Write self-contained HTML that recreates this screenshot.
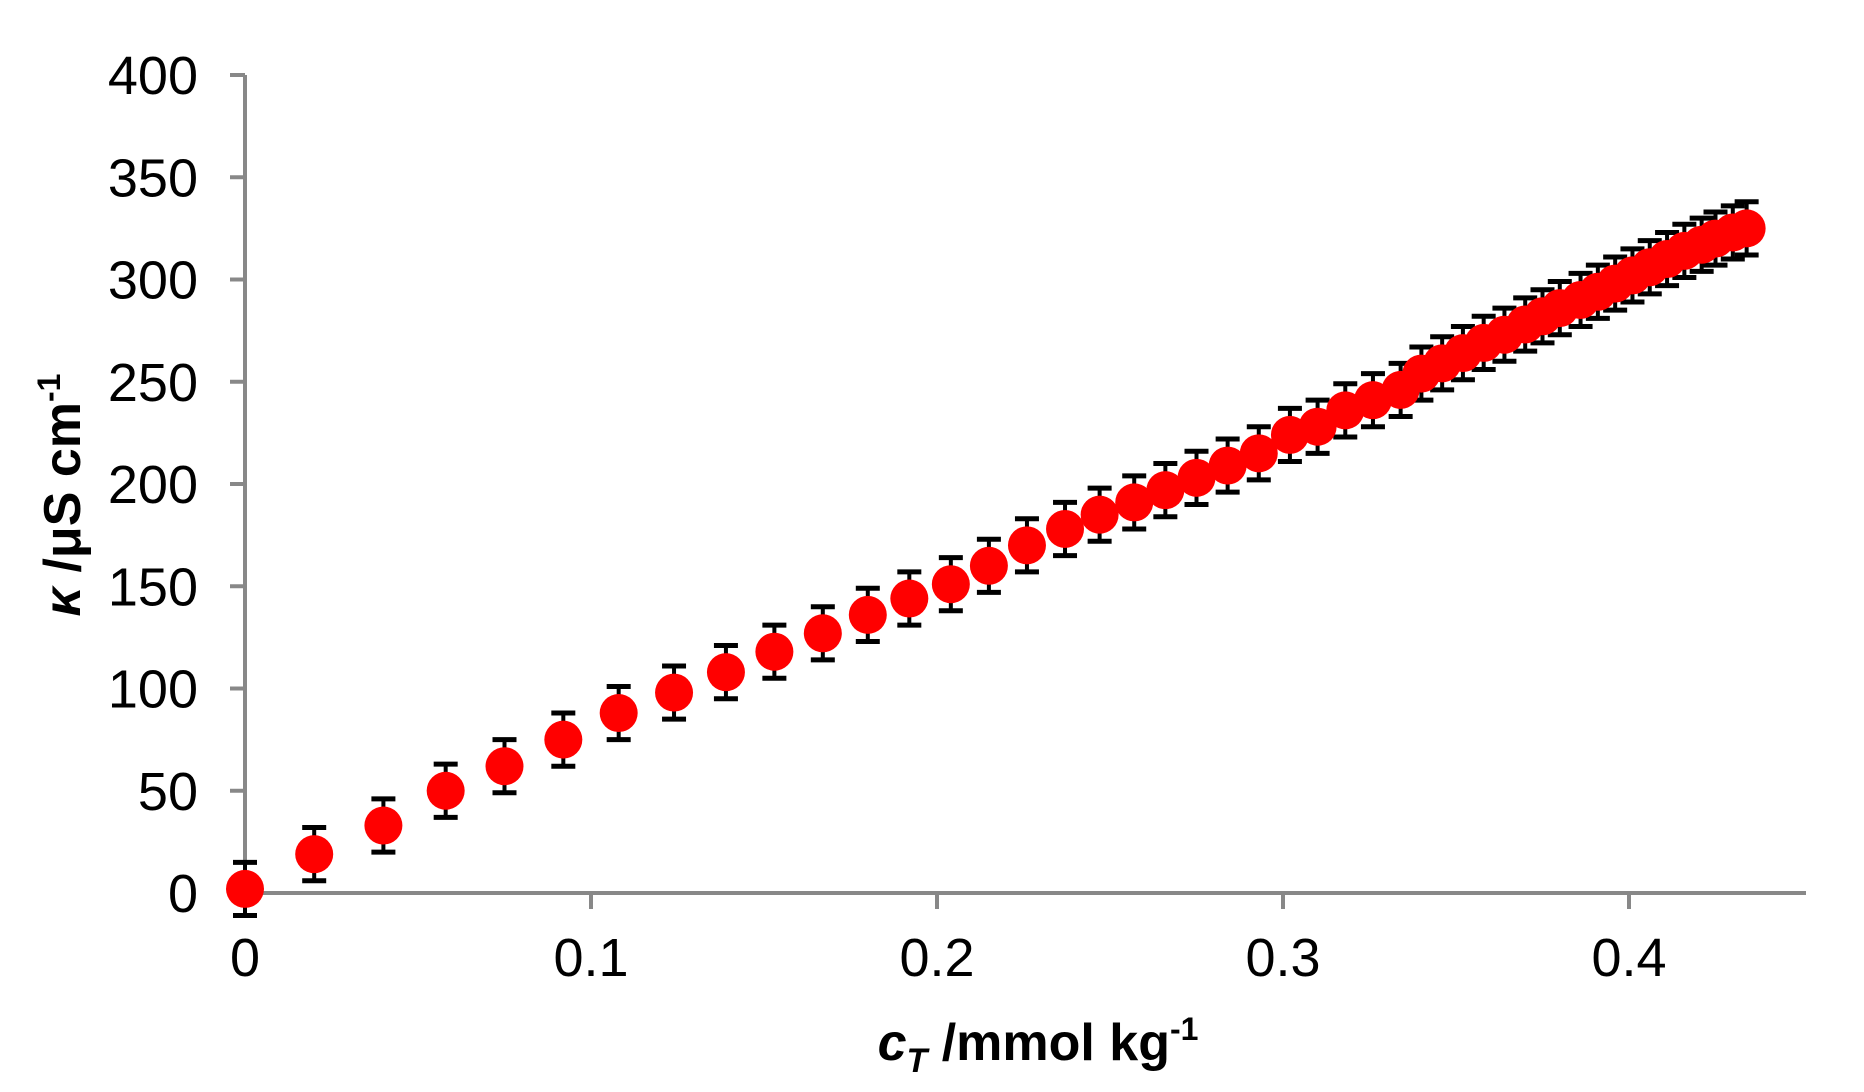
<!DOCTYPE html>
<html><head><meta charset="utf-8"><style>
html,body{margin:0;padding:0;background:#fff;}
svg{display:block;}
text{font-family:"Liberation Sans",Arial,sans-serif;}
</style></head><body>
<svg id="chart" width="1864" height="1092" viewBox="0 0 1864 1092" xmlns="http://www.w3.org/2000/svg">
<g id="axes"></g>
<g id="marks"></g>
<text x="1038" y="1060" text-anchor="middle" font-size="52" font-weight="bold"><tspan font-style="italic">c</tspan><tspan font-style="italic" font-size="34" dy="12">T</tspan><tspan dy="-12"> /mmol kg</tspan><tspan font-size="32" dy="-20">-1</tspan></text>
<text transform="translate(80,495) rotate(-90)" text-anchor="middle" font-size="52" font-weight="bold"><tspan font-style="italic">κ</tspan><tspan> /μS cm</tspan><tspan font-size="32" dy="-20">-1</tspan></text>
</svg>
<script>
const xTicks = [0, 0.1, 0.2, 0.3, 0.4];
const xTickLabels = ["0", "0.1", "0.2", "0.3", "0.4"];
const yTicks = [0, 50, 100, 150, 200, 250, 300, 350, 400];
const yTickLabels = ["0", "50", "100", "150", "200", "250", "300", "350", "400"];
const concentration = [0, 0.020, 0.040, 0.058, 0.075, 0.092, 0.108, 0.124, 0.139, 0.153, 0.167, 0.180, 0.192, 0.204, 0.215, 0.226, 0.237, 0.247, 0.257, 0.266, 0.275, 0.284, 0.293, 0.302, 0.310, 0.318, 0.326, 0.334,
  0.340, 0.346, 0.352, 0.358, 0.364, 0.370, 0.375, 0.380, 0.386, 0.391, 0.396, 0.401, 0.406, 0.411, 0.416, 0.421, 0.425, 0.430, 0.434];
const conductivity = [2, 19, 33, 50, 62, 75, 88, 98, 108, 118, 127, 136, 144, 151, 160, 170, 178, 185, 191, 197, 203, 209, 215, 224, 228, 236, 241, 246,
  254, 259, 264, 269, 273, 278, 282, 286, 290, 294, 298, 302, 306, 310, 314, 317, 320, 323, 325];
const errorValue = [13];

const NS = "http://www.w3.org/2000/svg";
const X0 = 245, XPER = 3460, Y0 = 893, YPER = (893 - 75) / 400;
function xScale(v){ return X0 + v * XPER; }
function yScale(v){ return Y0 - v * YPER; }
function mk(tag, attrs, parent){
  const e = document.createElementNS(NS, tag);
  for (const k in attrs) e.setAttribute(k, attrs[k]);
  parent.appendChild(e);
  return e;
}
const axes = document.getElementById('axes');
const marks = document.getElementById('marks');
let yl = mk('line', {x1: X0, y1: yScale(400), x2: X0, y2: Y0, stroke: '#888', 'stroke-width': 4}, axes);


let xl = mk('line', {x1: X0 - 15, y1: Y0, x2: 1806, y2: Y0, stroke: '#888', 'stroke-width': 4}, axes);


yTicks.forEach((t, i) => {
  const y = yScale(t);
  const tk = mk('line', {x1: X0 - 15, y1: y, x2: X0, y2: y, stroke: '#888', 'stroke-width': 4}, axes);
  
  
  const tx = mk('text', {x: 198, y: y + 19, 'text-anchor': 'end', 'font-size': 54, fill: '#000'}, axes);
  tx.textContent = yTickLabels[i];
  
  
});
xTicks.forEach((t, i) => {
  const x = xScale(t);
  const tk = mk('line', {x1: x, y1: Y0, x2: x, y2: Y0 + 16, stroke: '#888', 'stroke-width': 4}, axes);
  
  
  const tx = mk('text', {x: x, y: 976, 'text-anchor': 'middle', 'font-size': 54, fill: '#000'}, axes);
  tx.textContent = xTickLabels[i];
  
  
});
concentration.forEach((c, i) => {
  const x = xScale(c), v = conductivity[i], e = errorValue[0];
  const yt = yScale(v + e), yb = yScale(v - e);
  const g = mk('g', {}, marks);
  
  
  mk('line', {x1: x, y1: yt, x2: x, y2: yb, stroke: '#000', 'stroke-width': 4}, g);
  mk('line', {x1: x - 12, y1: yt, x2: x + 12, y2: yt, stroke: '#000', 'stroke-width': 5}, g);
  mk('line', {x1: x - 12, y1: yb, x2: x + 12, y2: yb, stroke: '#000', 'stroke-width': 5}, g);
});
concentration.forEach((c, i) => {
  const p = mk('circle', {cx: xScale(c), cy: yScale(conductivity[i]), r: 19, fill: '#ff0000'}, marks);
  
  
});
</script>
</body></html>
